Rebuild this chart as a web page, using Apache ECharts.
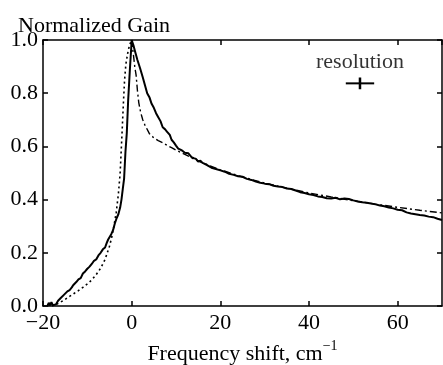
<!DOCTYPE html>
<html>
<head>
<meta charset="utf-8">
<script src="https://cdn.jsdelivr.net/npm/echarts@6/dist/echarts.min.js"></script>
<style>html,body{margin:0;padding:0;background:#fff}#c{width:443px;height:365px}</style>
</head>
<body>
<div id="c"></div>
<script>
// Measured gain profile (solid)
var measured = [
  [-19.0,0.0],[-18.7,0.012],[-18.4,0.002],[-18.1,0.015],[-17.8,0.003],[-17.5,0.01],[-17.1,0.006],
  [-16.6,0.02],[-16.0,0.03],[-15.4,0.04],[-15.0,0.042],[-14.5,0.055],[-14.0,0.06],[-13.5,0.07],
  [-13.2,0.078],[-12.8,0.074],[-12.5,0.09],[-12.0,0.1],[-11.5,0.105],[-11.0,0.122],[-10.5,0.13],
  [-10.0,0.14],[-9.5,0.148],[-9.0,0.158],[-8.5,0.17],[-8.0,0.175],[-7.5,0.19],[-7.0,0.2],
  [-6.5,0.213],[-6.0,0.22],[-5.6,0.238],[-5.3,0.25],[-5.0,0.252],[-4.6,0.27],[-4.2,0.285],
  [-3.8,0.31],[-3.4,0.33],[-3.0,0.345],[-2.6,0.37],[-2.3,0.4],[-2.0,0.44],[-1.7,0.48],
  [-1.4,0.58],[-1.1,0.65],[-0.8,0.77],[-0.4,0.89],[-0.1,0.97],[0,1.0],
  [0.4,0.98],[0.8,0.955],[1.3,0.925],[1.9,0.894],[2.5,0.86],[3.0,0.83],[3.5,0.80],[4.0,0.785],
  [4.5,0.76],[5.0,0.745],[5.5,0.725],[6.0,0.71],[6.5,0.695],[7.0,0.672],[7.5,0.665],[8.0,0.655],
  [8.6,0.643],[9.0,0.625],[9.5,0.615],[10.0,0.603],[10.5,0.592],[11.0,0.588],[11.5,0.583],
  [12.0,0.576],[12.8,0.574],[13.5,0.56],[14.0,0.556],[14.5,0.553],[15.0,0.543],[15.5,0.546],
  [16,0.538],[17,0.53],[18,0.52],[19,0.515],[20,0.51],[21,0.505],[22,0.497],[23,0.493],
  [24,0.488],[25,0.486],[26,0.478],[27,0.474],[28,0.468],[29,0.463],[30,0.46],[31,0.458],
  [32,0.452],[33,0.449],[34,0.447],[35,0.442],[36,0.44],[37,0.434],[38,0.428],[39,0.425],
  [40,0.42],[41,0.417],[42,0.412],[43,0.41],[44,0.405],[45,0.404],[46,0.407],[47,0.401],
  [48,0.404],[49,0.402],[50,0.397],[51,0.393],[52,0.39],[53,0.388],[54,0.385],[55,0.382],
  [56,0.378],[57,0.375],[58,0.37],[59,0.367],[60,0.362],[61,0.36],[62,0.352],[63,0.348],
  [64,0.345],[65,0.342],[66,0.34],[67,0.336],[68,0.334],[69,0.328],[70,0.323]
];
// Theory, low-frequency side (dotted)
var theoryLeft = [
  [-18,0.0],[-17,0.006],[-16,0.015],[-15,0.025],[-14,0.036],[-13,0.047],[-12,0.058],
  [-11,0.07],[-10,0.083],[-9,0.098],[-8,0.118],[-7,0.142],[-6,0.175],[-5.5,0.2],[-5,0.225],
  [-4.5,0.258],[-4,0.3],[-3.5,0.35],[-3,0.42],[-2.6,0.5],[-2.4,0.57],[-2.2,0.64],[-1.9,0.75],
  [-1.6,0.85],[-1.3,0.91],[-0.9,0.95],[-0.5,0.98],[0,1.0]
];
// Theory, high-frequency side (dash-dot)
var theoryRight = [
  [0,1.0],[0.2,0.97],[0.4,0.944],[0.7,0.9],[1.0,0.868],[1.3,0.81],[1.6,0.765],[2.0,0.73],
  [2.5,0.7],[3,0.68],[4,0.648],[5,0.632],[6,0.622],[7,0.614],[8,0.604],[9,0.595],[10,0.586],
  [11,0.578],[12,0.57],[14,0.553],[16,0.538],[18,0.525],[20,0.512],[25,0.485],[30,0.462],
  [35,0.443],[40,0.425],[45,0.41],[50,0.396],[55,0.383],[60,0.371],[65,0.36],[70,0.35]
];
// Resolution cross
var resolutionH = [[48.3,0.837],[54.7,0.837]];
var resolutionV = [[51.5,0.815],[51.5,0.859]];
var resolutionLabelPos = [[51.5,0.915]];
var xTicks = {min:-20, max:70, interval:20};
var yTicks = {min:0, max:1, interval:0.2};

var FONT = 'Liberation Serif';
var chart = echarts.init(document.getElementById('c'), null, {renderer:'canvas'});
function axisCommon(extra){
  var base = {
    type:'value',
    axisLine:{show:true, onZero:false, lineStyle:{color:'#000', width:1.5}},
    axisTick:{show:true, inside:true, length:5, lineStyle:{color:'#000', width:1.5}},
    splitLine:{show:false},
    axisLabel:{color:'#000', fontFamily:FONT, fontSize:22}
  };
  for (var k in extra) base[k] = extra[k];
  return base;
}
var option = {
  animation:false,
  backgroundColor:'#fff',
  title:{text:'Normalized Gain', left:13, top:10,
    textStyle:{fontFamily:FONT, fontSize:22, fontWeight:'normal', color:'#000'}},
  grid:{left:43, right:1, top:40, bottom:59, containLabel:false, outerBoundsMode:'none'},
  xAxis:[
    axisCommon({min:xTicks.min, max:xTicks.max, interval:xTicks.interval, position:'bottom',
      axisLabel:{color:'#000', fontFamily:FONT, fontSize:22, margin:6, showMaxLabel:false,
        formatter:function(v){return String(v).replace('-', '\u2212');}},
      name:'{n|Frequency shift, cm}{s|\u22121}', nameLocation:'middle', nameGap:29,
      nameTextStyle:{rich:{
        n:{fontFamily:FONT, fontSize:22, color:'#000', verticalAlign:'bottom'},
        s:{fontFamily:FONT, fontSize:14, color:'#000', verticalAlign:'bottom', padding:[0,0,12,0]}
      }}}),
    axisCommon({min:xTicks.min, max:xTicks.max, interval:xTicks.interval, position:'top',
      axisLabel:{show:false}})
  ],
  yAxis:[
    axisCommon({min:yTicks.min, max:yTicks.max, interval:yTicks.interval, position:'left',
      axisLabel:{color:'#000', fontFamily:FONT, fontSize:22, margin:5,
        formatter:function(v){return v.toFixed(1);}}}),
    axisCommon({min:yTicks.min, max:yTicks.max, interval:yTicks.interval, position:'right',
      axisLabel:{show:false}})
  ],
  series:[
    {type:'line', data:theoryLeft, showSymbol:false, symbol:'none',
      lineStyle:{color:'#000', width:1.6, type:[2,3]}},
    {type:'line', data:theoryRight, showSymbol:false, symbol:'none',
      lineStyle:{color:'#000', width:1.4, type:[7,3,2,3]}},
    {type:'line', data:measured, showSymbol:false, symbol:'none',
      lineStyle:{color:'#000', width:2}},
    {type:'line', data:resolutionH, showSymbol:false, symbol:'none',
      lineStyle:{color:'#000', width:2}},
    {type:'line', data:resolutionV, showSymbol:false, symbol:'none',
      lineStyle:{color:'#000', width:2.5}},
    {type:'scatter', data:resolutionLabelPos, symbolSize:0,
      label:{show:true, position:'inside', formatter:'resolution',
        fontFamily:FONT, fontSize:22, color:'#000'}}
  ]
};
chart.setOption(option);
</script>
</body>
</html>
